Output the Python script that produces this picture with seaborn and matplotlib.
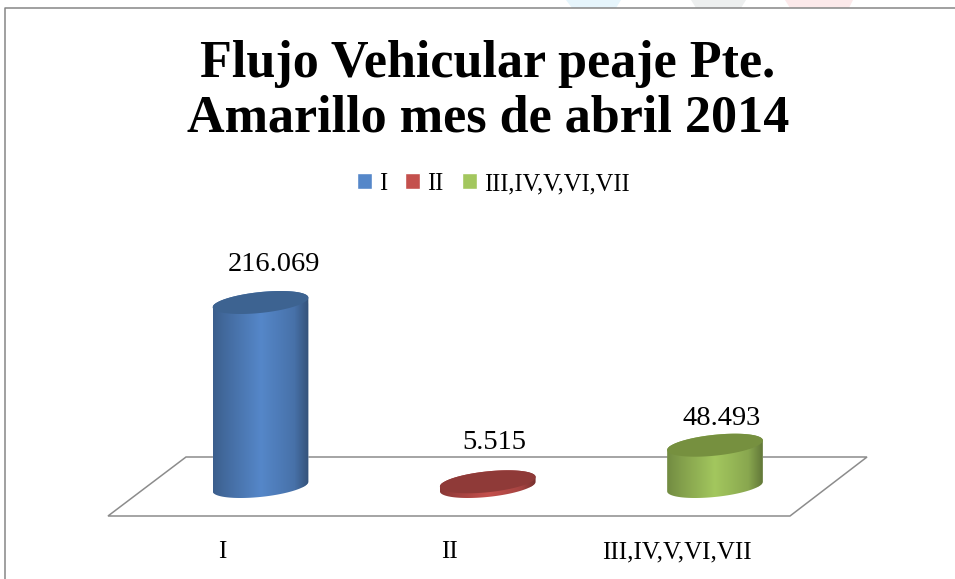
import numpy as np
import pandas as pd
import seaborn as sns
import matplotlib.pyplot as plt
from matplotlib.patches import Polygon, Rectangle
from matplotlib.lines import Line2D

# datos
categorias = ['I', 'II', 'III,IV,V,VI,VII']
flujo = [216069, 5515, 48493]
colores = ['#5587C9', '#C4504D', '#A3C75E']
colores_tapa = ['#3D6391', '#8F3A38', '#76903F']
titulo = 'Flujo Vehicular peaje Pte.\nAmarillo mes de abril 2014'

W, H = 955, 579

sns.set_theme(style='white')
plt.rcParams['font.family'] = ['Liberation Serif', 'DejaVu Serif']

df = pd.DataFrame({'eje': categorias, 'flujo': flujo})

fig = plt.figure(figsize=(W / 100, H / 100), dpi=100, facecolor='white')
ax = fig.add_axes([108 / W, (H - 516) / H, (790 - 108) / W, (516 - 240) / H])

sns.barplot(data=df, x='eje', y='flujo', hue='eje', palette=colores, width=0.418,
            legend=False, ax=ax)

# escala: 184 px para el valor mayor
px_x = 227.25
px_y = 184 / max(flujo)
ax.set_xlim((108 - 260.5) / px_x, (790 - 260.5) / px_x)
ax.set_ylim(-(516 - 486.5) / px_y, (486.5 - 240) / px_y)
ax.patch.set_alpha(0)
sns.despine(ax=ax, left=True, bottom=True, top=True, right=True)
ax.set_xlabel('')
ax.set_ylabel('')
ax.set_yticks([])
ax.set_xticks(np.arange(len(categorias)) - 0.167, labels=categorias)
ax.tick_params(axis='x', length=0, pad=18, labelsize=18, labelcolor='black')


def fx(x):
    return x / W


def fy(y):
    return 1 - y / H


# marco y restos del fondo de la pagina
for xs, c in [((566, 621, 616, 572), '#E6F5FC'), ((691, 746, 741, 696), '#EDEFEF'),
              ((785, 853, 849, 790), '#FCE9EA')]:
    fig.add_artist(Polygon([(fx(xs[0]), 1), (fx(xs[1]), 1), (fx(xs[2]), fy(8)), (fx(xs[3]), fy(8))],
                           transform=fig.transFigure, facecolor=c, edgecolor='none', zorder=-2))
fig.add_artist(Line2D([fx(5), fx(5), 1], [0, fy(8), fy(8)], color='#868686', lw=1.1,
                      transform=fig.transFigure, zorder=-1))

# piso
piso = [(108, 516), (790, 516), (867, 457), (186, 457)]
fig.add_artist(Polygon([(fx(a), fy(b)) for a, b in piso], closed=True, transform=fig.transFigure,
                       facecolor='white', edgecolor='#8C8C8C', lw=1.1, zorder=-1))

# cilindros sobre las barras
a, b, ang = 48.1, 10.4, np.radians(6)


def elipse(cx, cy, t):
    dx = a * np.cos(t) * np.cos(ang) - b * np.sin(t) * np.sin(ang)
    dy = a * np.cos(t) * np.sin(ang) + b * np.sin(t) * np.cos(ang)
    return np.column_stack([cx + dx / px_x, cy + dy / px_y])


paradas = [0, 0.15, 0.5, 0.85, 1]
brillo = [0.7, 0.8, 1, 0.84, 0.6]
for bar, col, tapa in zip(ax.patches, colores, colores_tapa):
    cx = bar.get_x() + bar.get_width() / 2
    alto = bar.get_height()
    abajo = elipse(cx, 0, np.linspace(np.pi, 2 * np.pi, 60))
    arriba = elipse(cx, alto, np.linspace(0, np.pi, 60))
    cuerpo = Polygon(np.vstack([abajo, arriba]), transform=ax.transData)
    bar.set_clip_path(cuerpo)

    u = np.linspace(0, 1, 200)
    base = np.array(plt.matplotlib.colors.to_rgb(col))
    grad = np.outer(np.interp(u, paradas, brillo), base)[np.newaxis, :, :]
    extremos = np.vstack([abajo, arriba])
    im = ax.imshow(grad, aspect='auto', interpolation='bilinear', zorder=2.5,
                   extent=[extremos[:, 0].min(), extremos[:, 0].max(),
                           extremos[:, 1].min(), extremos[:, 1].max()])
    im.set_clip_path(cuerpo)
    ax.add_patch(Polygon(elipse(cx, alto, np.linspace(0, 2 * np.pi, 120)), closed=True,
                         facecolor=tapa, edgecolor='none', zorder=3))

ax.set_xlim((108 - 260.5) / px_x, (790 - 260.5) / px_x)
ax.set_ylim(-(516 - 486.5) / px_y, (486.5 - 240) / px_y)

# etiquetas de valor
desplaz = [(13.5, 38), (7, 39), (7, 27)]
for i, v in enumerate(flujo):
    ax.annotate(f'{v:,}'.replace(',', '.'), (i, v), xytext=(desplaz[i][0] * 0.72, desplaz[i][1] * 0.72),
                textcoords='offset points', ha='center', va='center', fontsize=20.5, color='black',
                annotation_clip=False, zorder=5)

fig.suptitle(titulo, x=fx(488), y=fy(91.5), ha='center', va='center', fontsize=37.5, fontweight='bold',
             color='black', linespacing=1.18)

handles = [Rectangle((0, 0), 1, 1, facecolor=c) for c in colores]
fig.legend(handles, categorias, loc='center', bbox_to_anchor=(fx(493), fy(184)), ncol=3, frameon=False,
           fontsize=17.7, handlelength=0.61, handleheight=0.61, handletextpad=0.28, columnspacing=0.75,
           labelcolor='black')

fig.savefig('out.png', dpi=100)
